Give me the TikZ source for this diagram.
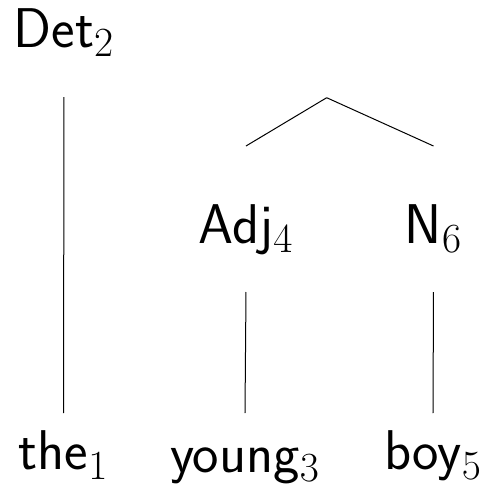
\documentclass[tikz,border=0pt]{standalone}
\usetikzlibrary{calc}
\DeclareMathSizes{28}{28}{19.5}{14}
\tikzset{
	lbl/.style={anchor=base, inner sep=0pt, font=\fontsize{28}{34}\selectfont\sffamily},
	branch/.style={line width=0.5pt},
}
\begin{document}
\begin{tikzpicture}[x=0.5pt,y=-0.5pt]
			\useasboundingbox (0,0) rectangle (489,488);
			% categories
			\node[lbl] (det) at (64,47) {Det$_2$};
			\node[lbl] (adj) at (246,243) {Adj$_4$};
			\node[lbl] (n) at (433.5,243) {N$_6$};
			\coordinate (np) at (326.7,97.7);
			% words
			\node[lbl] (the) at (63.5,469.5) {the$_1$};
			\node[lbl] (young) at (245,472) {young$_3$};
			\node[lbl] (boy) at (433,469.5) {boy$_5$};
			% branches
			\draw[branch] (np) -- ($(adj.base)+(0,-97)$);
			\draw[branch] (np) -- ($(n.base)+(0,-97)$);
			\draw[branch] ($(det.base)+(0,50)$) -- ($(the.base)+(0,-56.5)$);
			\draw[branch] ($(adj.base)+(0,49)$) -- ($(young.base)+(0,-59)$);
			\draw[branch] ($(n.base)+(0,49)$) -- ($(boy.base)+(0,-56.5)$);
		\end{tikzpicture}
\end{document}
